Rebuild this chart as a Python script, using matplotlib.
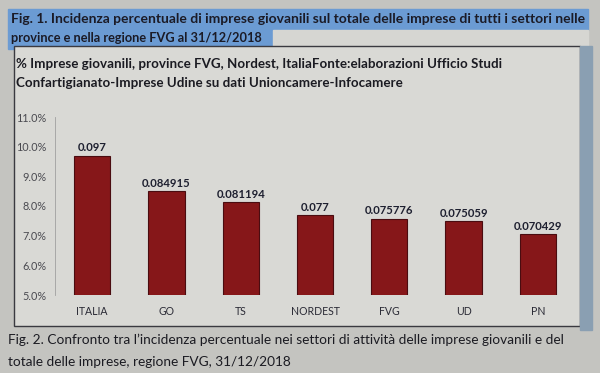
import numpy as np
import matplotlib.pyplot as plt
import matplotlib.patches as patches
from matplotlib.ticker import FuncFormatter

plt.rcParams['font.family'] = ['Lato', 'DejaVu Sans']

# data
zone = ['ITALIA', 'GO', 'TS', 'NORDEST', 'FVG', 'UD', 'PN']
quota = [0.097, 0.084915, 0.081194, 0.077, 0.075776, 0.075059, 0.070429]
quota_lbl = ['0.097', '0.084915', '0.081194', '0.077', '0.075776', '0.075059', '0.070429']
yticks = [0.05, 0.06, 0.07, 0.08, 0.09, 0.10, 0.11]

W, H = 600, 373
fig = plt.figure(figsize=(6.0, 3.73), dpi=100, facecolor='#c4c4c0')

def fx(px):
    return px / W

def fy(py):
    return 1 - py / H

def box(x0, y_bottom, w, h, **kw):
    fig.patches.append(patches.Rectangle((fx(x0), fy(y_bottom)), fx(w), h / H,
                                         transform=fig.transFigure, zorder=-5, **kw))

# blue caption band (Fig. 1)
box(8, 30, 580, 21, color='#6b9bd3')
box(8, 49, 265, 19, color='#6b9bd3')
box(273, 49, 315, 19, color='#d6d6d2')
fig.text(fx(11), fy(19), 'Fig. 1. Incidenza percentuale di imprese giovanili sul totale delle imprese di tutti i settori nelle',
         fontsize=10.0, fontweight='bold', color='#1b1b26', va='center')
fig.text(fx(11), fy(38), 'province e nella regione FVG al 31/12/2018',
         fontsize=9.2, fontweight='bold', color='#1b1b26', va='center')

# chart box + blue strip on the right
box(14, 326, 566, 280, facecolor='#d9d9d5', edgecolor='#3a3a40', linewidth=1.0)
box(580, 330, 12, 284, color='#8a9fb2')
fig.text(fx(16), fy(64), '% Imprese giovanili, province FVG, Nordest, ItaliaFonte:elaborazioni Ufficio Studi',
         fontsize=9.6, fontweight='bold', color='#1b1b22', va='center')
fig.text(fx(16), fy(83), 'Confartigianato-Imprese Udine su dati Unioncamere-Infocamere',
         fontsize=9.6, fontweight='bold', color='#1b1b22', va='center')

# Fig. 2 caption
fig.text(fx(8), fy(340), "Fig. 2. Confronto tra l\u2019incidenza percentuale nei settori di attivit\u00e0 delle imprese giovanili e del",
         fontsize=9.8, color='#1b1b22', va='center')
fig.text(fx(8), fy(362), 'totale delle imprese, regione FVG, 31/12/2018',
         fontsize=9.8, color='#1b1b22', va='center')

# bar chart
ax = fig.add_axes([fx(55), fy(295), fx(520), 178 / H])
ax.set_zorder(2)
ax.set_facecolor('none')
x = np.arange(len(zone))
ax.bar(x, quota, width=0.49, bottom=0, color='#861719', edgecolor='#4a0c10', linewidth=0.8)
for xi, v, s in zip(x, quota, quota_lbl):
    ax.text(xi, v + 0.0007, s, ha='center', va='bottom', fontsize=8.2,
            fontweight='bold', color='#1e2030')

ax.set_xlim(-0.5, len(zone) - 0.5)
ax.set_ylim(0.05, 0.11)
ax.set_yticks(yticks)
ax.yaxis.set_major_formatter(FuncFormatter(lambda v, p: '{:.1f}%'.format(v * 100)))
ax.set_xticks(x)
ax.set_xticklabels(zone)
ax.tick_params(axis='y', length=0, labelsize=7.8, labelcolor='#4a4a50', pad=6)
ax.tick_params(axis='x', length=0, labelsize=7.6, labelcolor='#2a2a35', pad=8)
for sp in ['top', 'right', 'bottom']:
    ax.spines[sp].set_visible(False)
ax.spines['left'].set_color('#a0a0a0')
ax.spines['left'].set_linewidth(0.6)

fig.savefig('out.png', dpi=100, facecolor=fig.get_facecolor())
